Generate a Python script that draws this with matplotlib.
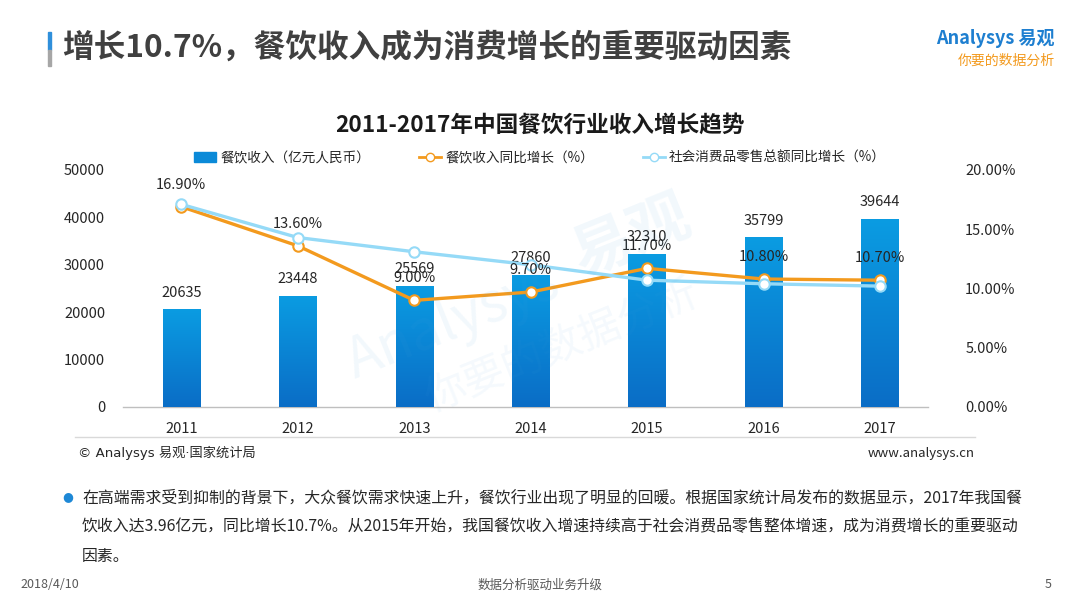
import matplotlib
matplotlib.use('Agg')
import matplotlib.pyplot as plt
import numpy as np
from matplotlib.colors import LinearSegmentedColormap
from matplotlib.lines import Line2D
from matplotlib.patches import Patch, Rectangle

plt.rcParams['font.family'] = ['Noto Sans CJK SC', 'DejaVu Sans']

years = ['2011', '2012', '2013', '2014', '2015', '2016', '2017']
revenue = [20635, 23448, 25569, 27860, 32310, 35799, 39644]
revenue_growth = [16.9, 13.6, 9.0, 9.7, 11.7, 10.8, 10.7]
retail_growth = [17.1, 14.3, 13.1, 12.0, 10.7, 10.4, 10.2]
left_ticks = [0, 10000, 20000, 30000, 40000, 50000]
right_ticks = [0, 5, 10, 15, 20]

text_c = '#262626'
orange = '#F39A1E'
lblue = '#95DAF7'

fig = plt.figure(figsize=(10.8, 6.08), dpi=100)
fig.patch.set_facecolor('white')

# watermark
fig.text(0.42, 0.47, 'Analysys', fontsize=40, color='#4AA3DF', alpha=0.07,
         rotation=22, ha='center', va='center', style='italic')
fig.text(0.585, 0.61, '易观', fontsize=44, color='#4AA3DF', alpha=0.07,
         rotation=22, ha='center', va='center', fontweight='bold')
fig.text(0.52, 0.43, '你要的数据分析', fontsize=30, color='#4AA3DF', alpha=0.06,
         rotation=22, ha='center', va='center')

ax = fig.add_axes([0.114, 0.3306, 0.745, 0.3898])
ax2 = ax.twinx()

x = np.arange(len(years))
bars = ax.bar(x, revenue, width=0.32, color='#0B8AD8', zorder=2)
grad = np.linspace(0, 1, 256).reshape(-1, 1)
cmap = LinearSegmentedColormap.from_list('barblue', ['#0A6DC6', '#0B9CE2'])
for b in bars:
    img = ax.imshow(grad, extent=[b.get_x(), b.get_x() + b.get_width(), 0, b.get_height()],
                    origin='lower', cmap=cmap, aspect='auto', zorder=3)
    img.set_clip_path(b)
    ax.annotate(f'{int(b.get_height())}', (b.get_x() + b.get_width() / 2, b.get_height()),
                xytext=(0, 12), textcoords='offset points', ha='center', va='center',
                fontsize=10.5, color=text_c, zorder=5)

ax.set_xlim(-0.5, 6.41)
ax.set_ylim(0, 50000)
ax.set_yticks(left_ticks)
ax.set_xticks(x)
ax.set_xticklabels(years)
ax.tick_params(axis='y', length=0, pad=13, labelsize=10.5, labelcolor=text_c)
ax.tick_params(axis='x', length=0, pad=11, labelsize=10.5, labelcolor=text_c)
for s in ['top', 'right', 'left']:
    ax.spines[s].set_visible(False)
ax.spines['bottom'].set_color('#BFBFBF')
ax.spines['bottom'].set_linewidth(1)

ax2.plot(x, revenue_growth, color=orange, lw=2.4, marker='o', ms=7.5,
         mfc='white', mec=orange, mew=1.5, zorder=3)
ax2.plot(x, retail_growth, color=lblue, lw=2.4, marker='o', ms=7.5,
         mfc='white', mec=lblue, mew=1.5, zorder=4)
for xi, v in zip(x, revenue_growth):
    ax2.annotate(f'{v:.2f}%', (xi, v), xytext=(0, 16), textcoords='offset points',
                 ha='center', va='center', fontsize=10.5, color=text_c, zorder=6)
ax2.set_ylim(0, 20)
ax2.set_yticks(right_ticks)
ax2.set_yticklabels([f'{t:.2f}%' for t in right_ticks])
ax2.tick_params(axis='y', length=0, pad=27, labelsize=10.5, labelcolor=text_c)
for s in ['top', 'right', 'left', 'bottom']:
    ax2.spines[s].set_visible(False)

handles = [Patch(color='#0B8AD8'),
           Line2D([], [], color=orange, lw=2, marker='o', ms=6, mfc='white', mec=orange),
           Line2D([], [], color=lblue, lw=2, marker='o', ms=6, mfc='white', mec=lblue)]
labels = ['餐饮收入（亿元人民币）', '餐饮收入同比增长（%）', '社会消费品零售总额同比增长（%）']
fig.legend(handles, labels, loc='center', bbox_to_anchor=(0.5, 1 - 158 / 608), ncol=3,
           frameon=False, fontsize=9.8, handlelength=1.6, handletextpad=0.3,
           columnspacing=3.6, labelcolor=text_c)

# chart title
fig.text(0.5, 1 - 125 / 608, '2011-2017年中国餐饮行业收入增长趋势', ha='center', va='center',
         fontsize=16.3, fontweight='bold', color='#1A1A1A')

# slide title
fig.text(62 / 1080, 1 - 48 / 608, '增长10.7%，餐饮收入成为消费增长的重要驱动因素', ha='left',
         va='center', fontsize=22.8, fontweight='bold', color='#404040')
fig.add_artist(Rectangle((48 / 1080, 1 - 50 / 608), 3 / 1080, 18 / 608,
                         transform=fig.transFigure, color='#2F8FDB'))
fig.add_artist(Rectangle((48 / 1080, 1 - 66 / 608), 3 / 1080, 16 / 608,
                         transform=fig.transFigure, color='#A6A6A6'))

# logo
fig.text(1055 / 1080, 1 - 38 / 608, 'Analysys 易观', ha='right', va='center',
         fontsize=13, color='#1E7FD0', fontweight='bold')
fig.text(1055 / 1080, 1 - 61 / 608, '你要的数据分析', ha='right', va='center',
         fontsize=10, color='#F39A1E', style='italic')

# source line
fig.add_artist(Line2D([75 / 1080, 975 / 1080], [1 - 437 / 608, 1 - 437 / 608],
                      transform=fig.transFigure, color='#D9D9D9', lw=1))
fig.text(78 / 1080, 1 - 453 / 608, '© Analysys 易观·国家统计局', ha='left', va='center',
         fontsize=9.5, color=text_c, family=['DejaVu Sans', 'Noto Sans CJK SC'])
fig.text(975 / 1080, 1 - 453 / 608, 'www.analysys.cn', ha='right', va='center',
         fontsize=9.5, color=text_c)

# bullet text
fig.text(68 / 1080, 1 - 497 / 608, '●', ha='center', va='center', fontsize=9,
         color='#1E88D6', family=['DejaVu Sans'])
body = ['在高端需求受到抑制的背景下，大众餐饮需求快速上升，餐饮行业出现了明显的回暖。根据国家统计局发布的数据显示，2017年我国餐',
        '饮收入达3.96亿元，同比增长10.7%。从2015年开始，我国餐饮收入增速持续高于社会消费品零售整体增速，成为消费增长的重要驱动',
        '因素。']
for i, line in enumerate(body):
    fig.text(82 / 1080, 1 - (498 + 29 * i) / 608, line, ha='left', va='center',
             fontsize=11.45, color=text_c)

# footer
fig.text(20 / 1080, 1 - 585 / 608, '2018/4/10', ha='left', va='center', fontsize=9, color='#595959')
fig.text(0.5, 1 - 585 / 608, '数据分析驱动业务升级', ha='center', va='center', fontsize=9, color='#595959')
fig.text(1052 / 1080, 1 - 585 / 608, '5', ha='right', va='center', fontsize=9, color='#595959')

fig.savefig('out.png', dpi=100)
